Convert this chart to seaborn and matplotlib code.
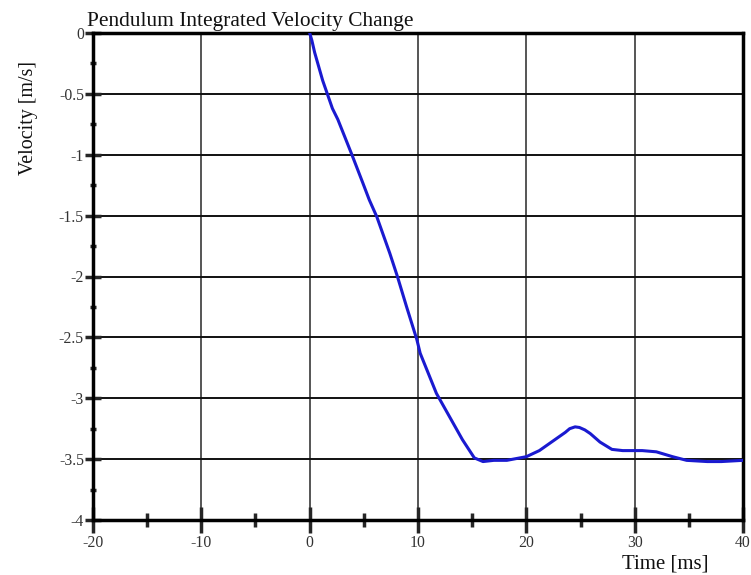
import numpy as np
import pandas as pd
import matplotlib
matplotlib.use("Agg")
import matplotlib.pyplot as plt
import seaborn as sns
from matplotlib.ticker import MultipleLocator, FuncFormatter

# Data
time_ms = [0.0, 0.2, 0.46, 1.2, 2.1, 2.6, 3.9, 4.9, 5.5, 6.2, 7.4, 8.1, 8.95, 9.9, 10.2,
           11.7, 12.9, 14.1, 15.2, 16.0, 17.0, 18.2, 20.0, 21.2, 22.8, 23.6, 24.0,
           24.5, 24.9, 25.4, 25.9, 26.8, 27.9, 28.9, 30.7, 32.0, 33.5, 34.8, 36.7,
           38.0, 40.0]
velocity = [0.0, -0.06, -0.16, -0.39, -0.62, -0.71, -1.0, -1.23, -1.37, -1.51, -1.81,
            -2.0, -2.25, -2.52, -2.63, -2.96, -3.15, -3.34, -3.49, -3.52, -3.51,
            -3.51, -3.48, -3.43, -3.33, -3.28, -3.25, -3.235, -3.24, -3.26, -3.29,
            -3.36, -3.42, -3.43, -3.43, -3.44, -3.48, -3.51, -3.52, -3.52, -3.51]
title = "Pendulum Integrated Velocity Change"
xlabel = "Time [ms]"
ylabel = "Velocity [m/s]"

df = pd.DataFrame({"time": time_ms, "velocity": velocity})

sns.set_style("white")
plt.rcParams["font.family"] = ["Liberation Serif", "DejaVu Serif"]

fig = plt.figure(figsize=(7.51, 5.75), dpi=100)
ax = fig.add_axes([93 / 751, 1 - 520 / 575, 650 / 751, 487 / 575])

sns.lineplot(data=df, x="time", y="velocity", ax=ax, color="#1a1ad0",
             linewidth=2.2, zorder=3)

ax.set_xlim(-20, 40)
ax.set_ylim(-4, 0)
ax.xaxis.set_major_locator(MultipleLocator(10))
ax.xaxis.set_minor_locator(MultipleLocator(5))
ax.yaxis.set_major_locator(MultipleLocator(0.5))
ax.yaxis.set_minor_locator(MultipleLocator(0.25))
fmt = FuncFormatter(lambda v, p: "%g" % v)
ax.xaxis.set_major_formatter(fmt)
ax.yaxis.set_major_formatter(fmt)

ax.grid(True, which="major", axis="x", color="#555555", linewidth=1.4)
ax.grid(True, which="major", axis="y", color="#111111", linewidth=1.4)

for s in ax.spines.values():
    s.set_visible(True)
    s.set_color("black")
    s.set_linewidth(2.5)

ax.tick_params(axis="x", which="major", direction="inout", length=19, width=2.5,
               labelsize=11.3, labelcolor="#333333", pad=1, bottom=True)
ax.tick_params(axis="x", which="minor", direction="inout", length=10, width=2.5,
               bottom=True)
ax.tick_params(axis="y", which="major", direction="inout", length=11, width=2.5,
               labelsize=11.3, labelcolor="#333333", pad=1, left=True)
ax.tick_params(axis="y", which="minor", direction="inout", length=5, width=2.5,
               left=True)

ax.set_xlabel("")
ax.set_ylabel("")
fig.text(87 / 751, 1 - 26 / 575, title, fontsize=15.4, ha="left", va="baseline",
         color="#111111")
fig.text(708 / 751, 1 - 569 / 575, xlabel, fontsize=15, ha="right", va="baseline",
         color="#111111")
fig.text(28 / 751, 1 - 118 / 575, ylabel, fontsize=14.4, ha="center", va="center",
         rotation=90, color="#111111")

fig.savefig("out.png", dpi=100)
